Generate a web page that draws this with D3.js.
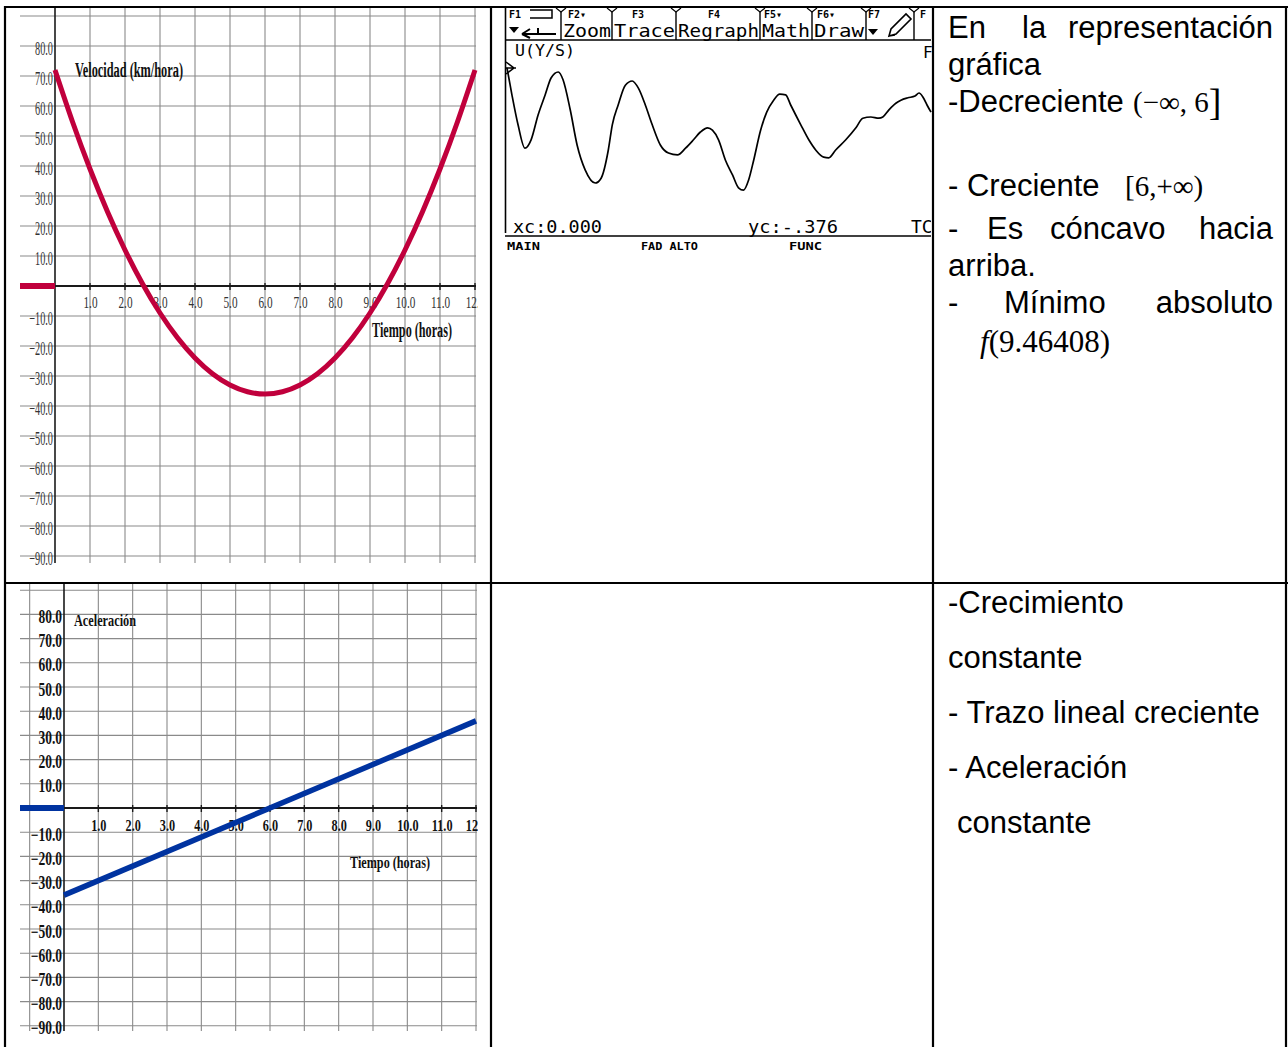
<!DOCTYPE html>
<html><head><meta charset="utf-8">
<script src="https://cdn.jsdelivr.net/npm/d3@7"></script>
<style>body{margin:0;background:#fff}svg{display:block}</style>
</head><body>
<script>
// ---------------- DATA ----------------
const velT = [0,0.5,1,1.5,2,2.5,3,3.5,4,4.5,5,5.5,6,6.5,7,7.5,8,8.5,9,9.5,10,10.5,11,11.5,12];
const velV = [72,54.75,39,24.75,12,0.75,-9,-17.25,-24,-29.25,-33,-35.25,-36,-35.25,-33,-29.25,-24,-17.25,-9,0.75,12,24.75,39,54.75,72];
const accT = [0,12];
const accV = [-36,36];
const hourTicks = [1,2,3,4,5,6,7,8,9,10,11,12];
const hourLabels = ["1.0","2.0","3.0","4.0","5.0","6.0","7.0","8.0","9.0","10.0","11.0","12.0"];
const valueTicks = [80,70,60,50,40,30,20,10,-10,-20,-30,-40,-50,-60,-70,-80,-90];
const valueLabels = ["80.0","70.0","60.0","50.0","40.0","30.0","20.0","10.0","\u221210.0","\u221220.0","\u221230.0","\u221240.0","\u221250.0","\u221260.0","\u221270.0","\u221280.0","\u221290.0"];
const gridValues = [90,80,70,60,50,40,30,20,10,0,-10,-20,-30,-40,-50,-60,-70,-80,-90];
// calculator trace (LCD column, relative value)
const calcX = [0.75,2.6,4.9,7.5,9.8,12.4,15.1,17.3,20.0,21.8,24.5,27.1,30.1,33.9,36.1,38.8,40.3,42.5,45.2,47.8,50.1,52.7,55.3,58.4,61.4,64.8,67.8,70.8,73.4,76.1,77.9,80.2,82.8,85.5,87.7,89.6,91.5,93.4,96.0,98.3,100.9,103.2,105.4,107.3,111.1,114.1,116.7,119.7,121.6,124.2,128.0,131.8,134.4,137.4,140.4,141.9,144.2,146.8,148.7,151.3,154.0,155.5,157.0,158.5,160];
const calcY = [0.87,0.42,-0.08,-0.47,-0.33,0.08,0.42,0.70,0.80,0.67,0.17,-0.42,-0.83,-1.05,-0.97,-0.50,-0.08,0.25,0.58,0.65,0.53,0.25,-0.08,-0.42,-0.55,-0.58,-0.47,-0.33,-0.20,-0.13,-0.17,-0.33,-0.67,-0.92,-1.13,-1.17,-1.00,-0.67,-0.17,0.13,0.33,0.43,0.42,0.25,-0.08,-0.33,-0.50,-0.62,-0.63,-0.50,-0.33,-0.13,0.03,0.05,0.03,0.05,0.17,0.28,0.33,0.37,0.40,0.45,0.38,0.25,0.13];
const menuTop = ["F1","F2\u25BE","F3","F4","F5\u25BE","F6\u25BE","F7","F"];
const menuMain = ["Zoom","Trace","Regraph","Math","Draw"];

// ---------------- SETUP ----------------
const W=1288,H=1047;
const svg=d3.select('body').append('svg').attr('width',W).attr('height',H);
const SERIF='"Liberation Serif","Times New Roman",serif';
const SANS='"Liberation Sans",Arial,sans-serif';
const MONO='"DejaVu Sans Mono",monospace';
function squeeze(sel,f){sel.each(function(){const l=this.getComputedTextLength();if(l>0){this.setAttribute('textLength',l*f);this.setAttribute('lengthAdjust','spacingAndGlyphs');}});}
function fitTo(sel,w){sel.attr('textLength',w).attr('lengthAdjust','spacingAndGlyphs');}

// ---------------- CHARTS ----------------
function drawChart(c){
  const x=d3.scaleLinear().domain([0,12]).range([c.x0,c.x12]);
  const y=d3.scaleLinear().domain([90,-90]).range([c.yTop,c.yBot]);
  const g=svg.append('g');
  g.selectAll('line.h').data(gridValues).join('line').attr('class','h')
    .attr('x1',c.gridLeft).attr('x2',x(12)+1).attr('y1',d=>y(d)).attr('y2',d=>y(d))
    .attr('stroke','#8a8a8a').attr('stroke-width',1.1);
  g.selectAll('line.v').data(c.gridHours).join('line').attr('class','v')
    .attr('x1',d=>x(d)).attr('x2',d=>x(d)).attr('y1',c.vTop).attr('y2',c.vBot)
    .attr('stroke','#8a8a8a').attr('stroke-width',1.1);
  g.append('line').attr('x1',x(0)).attr('x2',x(0)).attr('y1',c.vTop).attr('y2',c.vBot).attr('stroke','#1a1a1a').attr('stroke-width',1.6);
  g.append('line').attr('x1',x(0)).attr('x2',x(12)+1).attr('y1',y(0)).attr('y2',y(0)).attr('stroke','#1a1a1a').attr('stroke-width',2);
  g.selectAll('line.xt').data(hourTicks).join('line').attr('class','xt')
    .attr('x1',d=>x(d)).attr('x2',d=>x(d)).attr('y1',y(0)-3).attr('y2',y(0)+4).attr('stroke','#1a1a1a').attr('stroke-width',1.4);
  g.append('line').attr('x1',c.gridLeft).attr('x2',x(0)).attr('y1',y(0)).attr('y2',y(0))
    .attr('stroke',c.color).attr('stroke-width',6);
  const ya=d3.axisLeft(y).tickValues(valueTicks).tickFormat((d,i)=>valueLabels[i]).tickSize(0).tickPadding(2);
  const yg=g.append('g').attr('transform',`translate(${x(0)},0)`).call(ya);
  yg.select('.domain').remove();
  yg.selectAll('text').attr('font-family',SERIF).attr('font-size',c.yFont).attr('font-weight',c.weight)
    .attr('fill',c.textColor).attr('dy',c.yDy);
  squeeze(yg.selectAll('text'),c.ySq);
  const xa=d3.axisBottom(x).tickValues(hourTicks).tickFormat((d,i)=>hourLabels[i]).tickSize(0).tickPadding(c.xPad);
  const xg=g.append('g').attr('transform',`translate(0,${y(0)})`).call(xa);
  xg.select('.domain').remove();
  xg.selectAll('text').attr('font-family',SERIF).attr('font-size',c.xFont).attr('font-weight',c.weight).attr('fill',c.textColor);
  squeeze(xg.selectAll('text'),c.xSq);
  // chart image ends at x≈478: hide overflow of last label
  g.append('rect').attr('x',478).attr('y',y(0)+3).attr('width',12).attr('height',22).attr('fill','#fff');
  const t1=g.append('text').attr('x',c.t1x).attr('y',c.t1y).attr('font-family',SERIF).attr('font-weight','bold')
    .attr('font-size',c.t1f).attr('fill','#111').text(c.title);
  fitTo(t1,c.t1w);
  const t2=g.append('text').attr('x',c.t2x).attr('y',c.t2y).attr('font-family',SERIF).attr('font-weight','bold')
    .attr('font-size',c.t2f).attr('fill','#111').text('Tiempo (horas)');
  fitTo(t2,c.t2w);
  const line=d3.line().x(d=>x(d[0])).y(d=>y(d[1])).curve(c.curve);
  g.append('path').datum(c.t.map((t,i)=>[t,c.v[i]])).attr('d',line)
    .attr('fill','none').attr('stroke',c.color).attr('stroke-width',c.lw).attr('stroke-linecap','butt');
}

drawChart({x0:55,x12:475,yTop:16,yBot:556,gridLeft:20,gridHours:hourTicks,vTop:8,vBot:563,
  color:'#c0003c',lw:5,t:velT,v:velV,curve:d3.curveNatural,
  yFont:19,ySq:0.54,yDy:'0.45em',weight:'normal',textColor:'#333',xFont:17,xSq:0.66,xPad:10,
  title:'Velocidad (km/hora)',t1x:75,t1y:77,t1f:20,t1w:108,t2x:372,t2y:337,t2f:20,t2w:80});

drawChart({x0:64,x12:476,yTop:590.2,yBot:1025.8,gridLeft:20,gridHours:[-1].concat(hourTicks),vTop:584,vBot:1031,
  color:'#0033a0',lw:5.5,t:accT,v:accV,curve:d3.curveLinear,
  yFont:18,ySq:0.75,yDy:'0.45em',weight:'bold',textColor:'#111',xFont:17,xSq:0.72,xPad:11,
  title:'Aceleración',t1x:74,t1y:626,t1f:16,t1w:62,t2x:350,t2y:868,t2f:17,t2w:80});

// ---------------- CALCULATOR ----------------
(function(){
  const g=svg.append('g');
  const cx=d3.scaleLinear().domain([0,160]).range([505,931]);
  const cy=d3.scaleLinear().domain([-1,1]).range([180,60]);
  g.append('line').attr('x1',505).attr('x2',931).attr('y1',40).attr('y2',40).attr('stroke','#000').attr('stroke-width',1.6);
  g.append('line').attr('x1',505.5).attr('x2',505.5).attr('y1',8).attr('y2',233).attr('stroke','#000').attr('stroke-width',1.6);
  const seps=[561,612,676,760,812,866,914];
  seps.forEach(s=>{
    g.append('line').attr('x1',s).attr('x2',s).attr('y1',12).attr('y2',40).attr('stroke','#000').attr('stroke-width',1.4);
    g.append('path').attr('d',`M${s-5},8 L${s},12 L${s+5},8`).attr('fill','none').attr('stroke','#000').attr('stroke-width',1.2);
  });
  const topX=[509,568,632,708,764,817,868,920];
  menuTop.forEach((t,i)=>{
    g.append('text').attr('x',topX[i]).attr('y',18).attr('font-family',MONO).attr('font-size',10).attr('font-weight','bold').text(t);
  });
  const mainX=[[563,48],[614,61],[678,81],[762,48],[814,50]];
  menuMain.forEach((t,i)=>{
    const tt=g.append('text').attr('x',mainX[i][0]).attr('y',37).attr('font-family',MONO).attr('font-size',18).text(t);
    fitTo(tt,mainX[i][1]);
  });
  g.append('path').attr('d','M509,27 L519,27 L514,33 Z').attr('fill','#000');
  g.append('path').attr('d','M522,34 L556,34 M522,34 L530,29 M522,34 L530,38 M538,28 L538,34').attr('fill','none').attr('stroke','#000').attr('stroke-width',2);
  g.append('path').attr('d','M530,10 L552,10 L552,18 L530,18').attr('fill','none').attr('stroke','#000').attr('stroke-width',1.5);
  g.append('path').attr('d','M868,29 L878,29 L873,35 Z').attr('fill','#000');
  g.append('path').attr('d','M889,36 L891,29 L906,14 L911,19 L896,34 Z M889,36 L895,35').attr('fill','none').attr('stroke','#000').attr('stroke-width',1.6);
  const ut=g.append('text').attr('x',515).attr('y',56).attr('font-family',MONO).attr('font-size',16).text('U(Y/S)');
  fitTo(ut,60);
  g.append('text').attr('x',923).attr('y',58).attr('font-family',MONO).attr('font-size',16).text('F');
  g.append('path').attr('d','M506,62 L514,68 L506,74 M506,68 L516,68').attr('fill','none').attr('stroke','#000').attr('stroke-width',1.5);
  const ln=d3.line().x(d=>cx(d[0])).y(d=>cy(d[1])).curve(d3.curveMonotoneX);
  g.append('path').datum(calcX.map((v,i)=>[v,calcY[i]])).attr('d',ln).attr('fill','none').attr('stroke','#000').attr('stroke-width',1.7);
  const xt=g.append('text').attr('x',513).attr('y',233).attr('font-family',MONO).attr('font-size',18).text('xc:0.000');
  fitTo(xt,89);
  const yt=g.append('text').attr('x',748).attr('y',233).attr('font-family',MONO).attr('font-size',18).text('yc:-.376');
  fitTo(yt,90);
  g.append('text').attr('x',911).attr('y',233).attr('font-family',MONO).attr('font-size',18).text('TC');
  g.append('rect').attr('x',931).attr('y',210).attr('width',20).attr('height',30).attr('fill','#fff');
  g.append('line').attr('x1',505).attr('x2',931).attr('y1',236).attr('y2',236).attr('stroke','#000').attr('stroke-width',1.6);
  [['MAIN',507,33],['FAD ALTO',641,57],['FUNC',789,33]].forEach(d=>{
    const t=g.append('text').attr('x',d[1]).attr('y',250).attr('font-family',MONO).attr('font-size',11).attr('font-weight','bold').text(d[0]);
    fitTo(t,d[2]);
  });
})();

// ---------------- TEXT COLUMN ----------------
(function(){
  const g=svg.append('g').attr('fill','#000');
  const fs=31;
  function s(x,y,t,anchor){return g.append('text').attr('x',x).attr('y',y).attr('font-family',SANS).attr('font-size',fs).attr('text-anchor',anchor||'start').text(t);}
  s(948,38,'En'); s(1022,38,'la'); s(1273,38,'representación','end');
  s(948,75,'gráfica');
  s(948,112,'-Decreciente');
  const d=g.append('text').attr('x',1133).attr('y',112).attr('font-family',SERIF).attr('font-size',29);
  d.append('tspan').text('(\u2212\u221E, 6');
  d.append('tspan').attr('font-size',38).attr('dy',3).text(']');
  s(948,196,'- Creciente');
  g.append('text').attr('x',1125).attr('y',196).attr('font-family',SERIF).attr('font-size',29).text('[6,+\u221E)');
  s(948,239,'-'); s(987,239,'Es'); s(1050,239,'cóncavo'); s(1273,239,'hacia','end');
  s(948,276,'arriba.');
  s(948,313,'-'); s(1004,313,'Mínimo'); s(1273,313,'absoluto','end');
  const f=g.append('text').attr('x',980).attr('y',352).attr('font-family',SERIF).attr('font-size',31);
  f.append('tspan').attr('font-style','italic').text('f');
  f.append('tspan').text('(9.46408)');
  s(948,613,'-Crecimiento');
  s(948,668,'constante');
  s(948,723,'- Trazo lineal creciente');
  s(948,778,'- Aceleración');
  s(957,833,'constante');
})();

// ---------------- TABLE BORDERS ----------------
(function(){
  const g=svg.append('g').attr('stroke','#000').attr('stroke-width',2.2);
  [[4,7,1288,7],[4,583,1288,583],[5,6,5,1047],[491,6,491,1047],[933,6,933,1047],[1286,6,1286,1047]].forEach(l=>{
    g.append('line').attr('x1',l[0]).attr('y1',l[1]).attr('x2',l[2]).attr('y2',l[3]);
  });
})();
</script>
</body></html>
